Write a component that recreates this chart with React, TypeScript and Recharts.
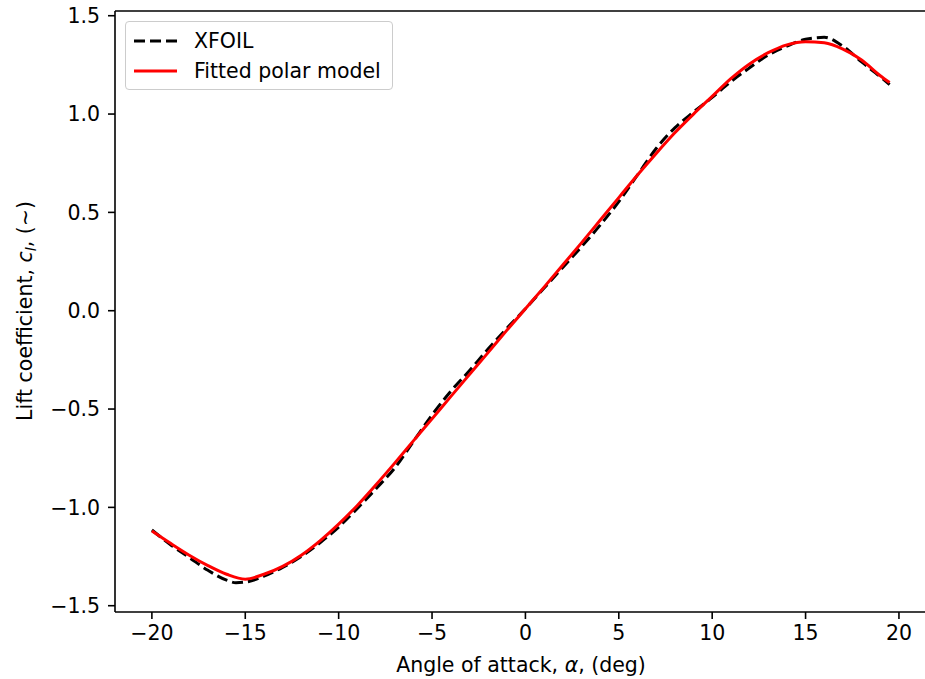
import { Line, LineChart, ReferenceLine, XAxis, YAxis } from "recharts"

// XFOIL polar
const alphaXfoil = [
  -20, -19, -18, -17, -16, -15.5, -15, -14, -13, -12, -11, -10, -9, -8, -7, -6, -5, -4, -3, -2, -1, 0,
  1, 2, 3, 4, 5, 6, 7, 8, 9, 10, 11, 12, 13, 14, 15, 16, 17, 18, 19, 19.5,
]
const clXfoil = [
  -1.115, -1.19, -1.255, -1.32, -1.37, -1.383, -1.38, -1.35, -1.305, -1.25, -1.18, -1.1, -1.005, -0.905,
  -0.8, -0.665, -0.53, -0.41, -0.305, -0.195, -0.09, 0.01, 0.115, 0.22, 0.325, 0.435, 0.555, 0.69, 0.825,
  0.93, 1.01, 1.085, 1.165, 1.235, 1.3, 1.345, 1.38, 1.39, 1.345, 1.265, 1.19, 1.15,
]

// fitted model
const alphaFit = [
  -20, -19, -18, -17, -16, -15, -14, -13, -12, -11, -10, -9, -8, -7, -6, -5, -4, -3, -2, -1, 0, 1, 2, 3,
  4, 5, 6, 7, 8, 9, 10, 11, 12, 13, 14, 15, 16, 17, 18, 19, 19.5,
]
const clFit = [
  -1.12, -1.183, -1.243, -1.296, -1.34, -1.365, -1.34, -1.3, -1.243, -1.17, -1.085, -0.99, -0.885, -0.775,
  -0.662, -0.55, -0.437, -0.325, -0.213, -0.1, 0.01, 0.12, 0.232, 0.345, 0.46, 0.575, 0.69, 0.8, 0.905,
  1.0, 1.09, 1.18, 1.255, 1.312, 1.352, 1.368, 1.362, 1.33, 1.275, 1.195, 1.16,
]

const xTicks = [-20, -15, -10, -5, 0, 5, 10, 15, 20]
const yTicks = [-1.5, -1.0, -0.5, 0.0, 0.5, 1.0, 1.5]

const xfoil = alphaXfoil.map((a, i) => ({ alpha: a, cl: clXfoil[i] }))
const fit = alphaFit.map((a, i) => ({ alpha: a, cl: clFit[i] }))

const X_DOMAIN: [number, number] = [-21.975, 21.475]
const Y_DOMAIN: [number, number] = [-1.532, 1.524]

const FONT = "'DejaVu Sans', sans-serif"
const FS = 20.5
const minus = (s: string) => s.replace("-", "\u2212")

function LegendBox() {
  const row = (dash: boolean, label: string) => (
    <div style={{ display: "flex", alignItems: "center", height: 30 }}>
      <svg width={60} height={10} style={{ marginLeft: 8, flex: "none" }}>
        <line
          x1={0}
          x2={43}
          y1={5}
          y2={5}
          stroke={dash ? "#000" : "#ff0000"}
          strokeWidth={3}
          strokeDasharray={dash ? "11 5" : undefined}
        />
      </svg>
      <span style={{ fontFamily: FONT, fontSize: FS, color: "#000", whiteSpace: "nowrap" }}>{label}</span>
    </div>
  )
  return (
    <div
      style={{
        position: "absolute",
        left: 125,
        top: 21,
        border: "1px solid #cccccc",
        borderRadius: 4,
        background: "rgba(255,255,255,0.8)",
        width: 268,
        height: 69,
        paddingTop: 4,
        boxSizing: "border-box",
      }}
    >
      {row(true, "XFOIL")}
      {row(false, "Fitted polar model")}
    </div>
  )
}

export default function App() {
  return (
    <div
      style={{
        position: "fixed",
        left: 0,
        top: 0,
        width: 925,
        height: 679,
        overflow: "hidden",
        background: "#fff",
      }}
    >
      <LineChart width={940} height={679} margin={{ top: 11, right: 13.5, left: 0, bottom: 0 }}>
        <XAxis
          dataKey="alpha"
          type="number"
          domain={X_DOMAIN}
          ticks={xTicks}
          allowDataOverflow
          height={67}
          tickSize={7}
          tickMargin={6}
          tickFormatter={(v) => minus(String(v))}
          tick={{ fontFamily: FONT, fontSize: FS, fill: "#000" }}
          axisLine={{ stroke: "#000", strokeWidth: 1.6 }}
          tickLine={{ stroke: "#000", strokeWidth: 1.6 }}
        />
        <YAxis
          type="number"
          domain={Y_DOMAIN}
          ticks={yTicks}
          allowDataOverflow
          width={115}
          tickSize={7}
          tickMargin={8}
          tickFormatter={(v) => minus(Number(v).toFixed(1))}
          tick={{ fontFamily: FONT, fontSize: FS, fill: "#000" }}
          axisLine={{ stroke: "#000", strokeWidth: 1.6 }}
          tickLine={{ stroke: "#000", strokeWidth: 1.6 }}
        />
        <ReferenceLine y={Y_DOMAIN[1]} stroke="#000" strokeWidth={1.6} />
        <Line
          data={xfoil}
          dataKey="cl"
          name="XFOIL"
          type="monotone"
          stroke="#000"
          strokeWidth={3}
          strokeDasharray="11 5"
          dot={false}
          isAnimationActive={false}
        />
        <Line
          data={fit}
          dataKey="cl"
          name="Fitted polar model"
          type="monotone"
          stroke="#ff0000"
          strokeWidth={3}
          dot={false}
          isAnimationActive={false}
        />
      </LineChart>
      <LegendBox />
      <svg
        width={925}
        height={679}
        style={{ position: "absolute", left: 0, top: 0, pointerEvents: "none" }}
        fontFamily={FONT}
        fontSize={FS}
      >
        <text x={521} y={672} textAnchor="middle" fill="#000">
          Angle of attack, <tspan fontStyle="italic">α</tspan>, (deg)
        </text>
        <text x={32} y={311} textAnchor="middle" fill="#000" transform="rotate(-90 32 311)">
          Lift coefficient, <tspan fontStyle="italic">c</tspan>
          <tspan fontStyle="italic" fontSize={FS * 0.7} dy={4}>
            l
          </tspan>
          <tspan dy={-4}>, (∼)</tspan>
        </text>
      </svg>
    </div>
  )
}
